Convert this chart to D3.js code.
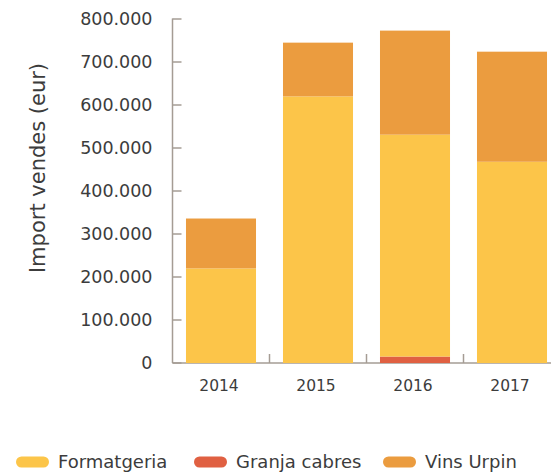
<!DOCTYPE html>
<html>
<head>
<meta charset="utf-8">
<script src="https://cdn.jsdelivr.net/npm/d3@7"></script>
<style>
  body { margin: 0; background: #fff; }
  svg { display: block; }
  text { font-family: "DejaVu Sans", sans-serif; fill: #3c3c3c; }
</style>
</head>
<body>
<svg id="chart" width="551" height="474"></svg>
<script>
const years = ["2014", "2015", "2016", "2017"];
const formatgeria = [220000, 620000, 516000, 468000];
const granjaCabres = [0, 0, 15000, 0];
const vinsUrpin = [116000, 125000, 242000, 256000];
const yTicks = [0, 100000, 200000, 300000, 400000, 500000, 600000, 700000, 800000];
const seriesNames = ["Formatgeria", "Granja cabres", "Vins Urpin"];
const seriesColors = ["#FCC549", "#E06042", "#EB9C3F"];
const stackOrder = ["Granja cabres", "Formatgeria", "Vins Urpin"];

const rows = years.map((y, i) => ({
  year: y,
  "Formatgeria": formatgeria[i],
  "Granja cabres": granjaCabres[i],
  "Vins Urpin": vinsUrpin[i]
}));

const svg = d3.select("#chart");
const axisColor = "#a59c94";

const x = d3.scaleBand().domain(years).range([172.5, 560.5]).paddingInner(0.278).paddingOuter(0.139);
const y = d3.scaleLinear().domain([0, 800000]).range([363, 19]);
const color = d3.scaleOrdinal().domain(seriesNames).range(seriesColors);

const stacked = d3.stack().keys(stackOrder)(rows);

const fmt = v => d3.format(",")(v).replace(/,/g, ".");

// y axis
const yAxis = svg.append("g").attr("transform", "translate(172.5,0)");
yAxis.append("line").attr("x1", 0).attr("x2", 0).attr("y1", y(800000) - 0.5).attr("y2", y(0))
  .attr("stroke", axisColor).attr("stroke-width", 1.5);
yAxis.selectAll("line.tick").data(yTicks).join("line").attr("class", "tick")
  .attr("x1", 0).attr("x2", 9).attr("y1", d => y(d)).attr("y2", d => y(d))
  .attr("stroke", axisColor).attr("stroke-width", 1.5);
yAxis.selectAll("text").data(yTicks).join("text")
  .attr("x", -20).attr("y", d => y(d)).attr("dy", "0.36em")
  .attr("text-anchor", "end").attr("font-size", 17.5)
  .text(d => fmt(d));

// x axis
const xAxis = svg.append("g").attr("transform", "translate(0,363)");
xAxis.append("line").attr("x1", 172.5).attr("x2", 551).attr("y1", 0).attr("y2", 0)
  .attr("stroke", axisColor).attr("stroke-width", 1.5);
const boundaries = years.slice(1).map(d => x(d) - x.step() * x.paddingInner() / 2);
xAxis.selectAll("line.tick").data(boundaries).join("line").attr("class", "tick")
  .attr("x1", d => d).attr("x2", d => d).attr("y1", 0).attr("y2", -9)
  .attr("stroke", axisColor).attr("stroke-width", 1.5);
xAxis.selectAll("text").data(years).join("text")
  .attr("x", d => x(d) + x.bandwidth() / 2 - 2).attr("y", 28)
  .attr("text-anchor", "middle").attr("font-size", 15.5)
  .text(d => d);

// bars
svg.append("g").selectAll("g").data(stacked).join("g")
  .attr("fill", d => color(d.key))
  .selectAll("rect").data(d => d).join("rect")
  .attr("x", d => x(d.data.year))
  .attr("width", x.bandwidth())
  .attr("y", d => y(d[1]))
  .attr("height", d => y(d[0]) - y(d[1]));

// y title
svg.append("text")
  .attr("transform", "translate(45,168) rotate(-90)")
  .attr("text-anchor", "middle").attr("font-size", 21)
  .text("Import vendes (eur)");

// legend
const legendX = [16, 194, 383];
const lg = svg.append("g").selectAll("g").data(seriesNames).join("g")
  .attr("transform", (d, i) => `translate(${legendX[i]},462)`);
lg.append("rect").attr("x", 0).attr("y", -5.5).attr("width", 33).attr("height", 11).attr("rx", 5.5)
  .attr("fill", d => color(d));
lg.append("text").attr("x", 42).attr("y", 0).attr("dy", "0.36em")
  .attr("font-size", 18).text(d => d);
</script>
</body>
</html>
